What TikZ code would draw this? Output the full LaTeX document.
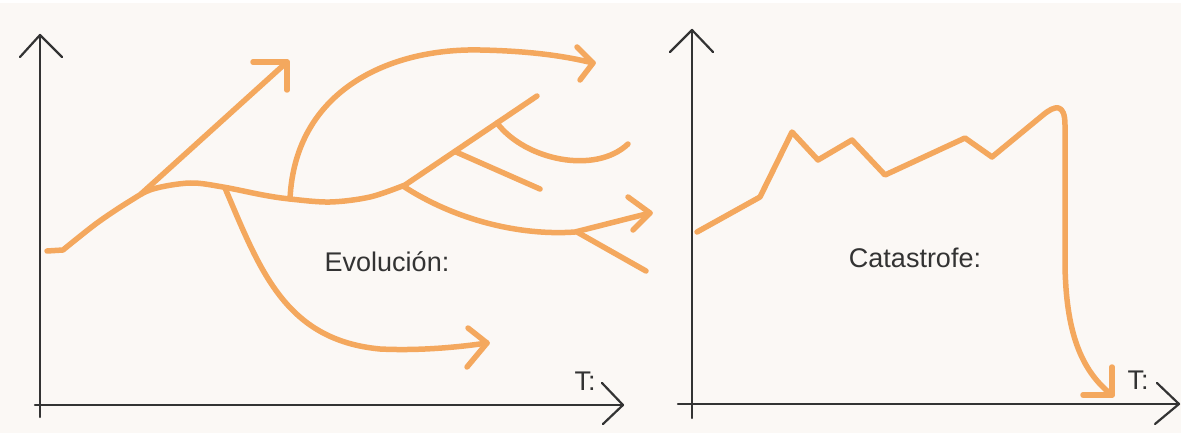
\documentclass[tikz,border=0pt]{standalone}
\usepackage{fontspec}
\setmainfont{Liberation Sans}
\definecolor{cream}{HTML}{FBF8F5}
\definecolor{curve}{HTML}{F4A85E}
\definecolor{axisc}{HTML}{333333}
\begin{document}
\begin{tikzpicture}[x=1pt,y=-1pt,
  orangeline/.style={draw=curve,line width=5.5pt,line cap=round,line join=round},
  axisline/.style={draw=axisc,line width=2.2pt,line cap=round,line join=round},
  label/.style={text=axisc,font=\fontsize{27}{30}\selectfont,inner sep=0pt}]
\useasboundingbox (0,0) rectangle (1181,433);
\fill[white] (0,0) rectangle (1181,433);
\fill[cream] (0,3) rectangle (1181,433);

% ---------- left panel: axes ----------
\draw[axisline] (40,417) -- (40,35);
\draw[axisline] (20,57) -- (40,35) -- (62,57);
\draw[axisline] (35,405) -- (623,405);
\draw[axisline] (602,383) -- (623,405) -- (603,424);
\node[label] (t1) at (585,381) {T:};
\node[label] (evo) at (387,262) {Evolución:};

% ---------- left panel: evolution curves ----------
% main stem
\draw[orangeline] (47,251) -- (63,250)
  plot[smooth,tension=0.55] coordinates {(63,250) (97,223) (130,201) (153,189) (190,183) (223,187) (263,195) (290,199) (330,202) (370,197) (405,185)}
  -- (537,96);
% straight arrow up
\draw[orangeline] (141,194) -- (287,62);
\draw[orangeline] (253,62) -- (287,62) -- (287,90);
% big arch
\draw[orangeline] (290,199) .. controls (295,90) and (390,48) .. (480,50) .. controls (530,51) and (565,56) .. (593,63);
\draw[orangeline] (577,47) -- (593,63) -- (580,80);
% straight side branch
\draw[orangeline] (456,152) -- (540,189);
% curled side branch
\draw[orangeline] (497,123) .. controls (525,160) and (595,175) .. (628,144);
% lower-right branch with arrow
\draw[orangeline] (403,186) .. controls (455,220) and (520,236) .. (575,232) -- (650,213);
\draw[orangeline] (628,197) -- (650,213) -- (633,230);
\draw[orangeline] (577,232) -- (646,271);
% descending branch
\draw[orangeline] (225,188) .. controls (260,270) and (285,340) .. (380,349) .. controls (420,351) and (460,347) .. (487,343);
\draw[orangeline] (468,328) -- (487,343) -- (467,367);

% ---------- right panel: axes ----------
\draw[axisline] (692,418) -- (692,30);
\draw[axisline] (670,52) -- (692,30) -- (713,52);
\draw[axisline] (678,404) -- (1179,404);
\draw[axisline] (1157,383) -- (1179,404) -- (1155,424);
\node[label] (t2) at (1138,380) {T:};
\node[label] (cat) at (915,258) {Catastrofe:};

% ---------- right panel: catastrophe curve ----------
\draw[orangeline] (697,232) -- (760,197) -- (792,132) -- (818,160) -- (852,140) -- (885,175) -- (965,138) -- (992,157) -- (1043,115)
  .. controls (1055,105) and (1065,103) .. (1065,125) -- (1065,265)
  .. controls (1066,330) and (1080,370) .. (1112,395);
\draw[orangeline] (1083,395) -- (1112,395) -- (1112,367);
\end{tikzpicture}
\end{document}
